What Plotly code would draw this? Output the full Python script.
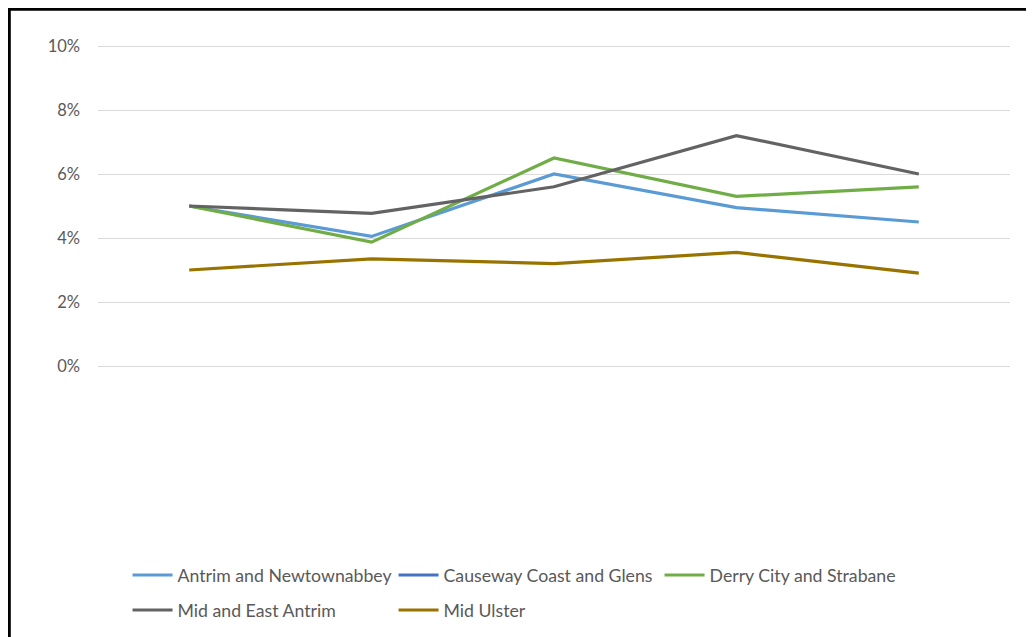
import plotly.graph_objects as go

categories = ["1", "2", "3", "4", "5"]
antrim_newtownabbey = [5.0, 4.05, 6.0, 4.95, 4.5]
causeway_coast_glens = [None, None, None, None, None]
derry_strabane = [5.0, 3.87, 6.5, 5.3, 5.6]
mid_east_antrim = [5.0, 4.77, 5.6, 7.2, 6.0]
mid_ulster = [3.0, 3.35, 3.2, 3.55, 2.9]

tick_vals = [0, 2, 4, 6, 8, 10]
tick_text = ["0%", "2%", "4%", "6%", "8%", "10%"]

series = [
    ("Antrim and Newtownabbey", antrim_newtownabbey, "#5B9BD5", "legend"),
    ("Causeway Coast and Glens", causeway_coast_glens, "#4472C4", "legend"),
    ("Derry City and Strabane", derry_strabane, "#70AD47", "legend"),
    ("Mid and East Antrim", mid_east_antrim, "#636363", "legend2"),
    ("Mid Ulster", mid_ulster, "#997300", "legend2"),
]

fig = go.Figure()
for name, vals, color, leg in series:
    fig.add_trace(go.Scatter(
        x=categories, y=vals, name=name, mode="lines",
        line=dict(color=color, width=3.2),
        showlegend=True, legend=leg,
    ))

FONT = "Lato, 'Open Sans', sans-serif"
W, H = 1034, 637
L, R, T, B = 90, 32, 32, 105
PW, PH = W - L - R, H - T - B

legend_common = dict(orientation="h", xanchor="left", yanchor="top",
                     entrywidth=211, entrywidthmode="pixels", itemwidth=40,
                     font=dict(family=FONT, size=17.7, color="#595959"),
                     bgcolor="rgba(0,0,0,0)")

fig.update_layout(
    width=W, height=H,
    margin=dict(l=L, r=R, t=T, b=B),
    paper_bgcolor="white", plot_bgcolor="white",
    font=dict(family=FONT, size=16, color="#595959"),
    xaxis=dict(type="category", range=[-0.5, 4.5], showticklabels=False,
               showgrid=False, zeroline=False, showline=False, ticks=""),
    yaxis=dict(range=[-5.4375, 10.1875], tickvals=tick_vals, ticktext=tick_text,
               showgrid=True, gridcolor="#D9D9D9", gridwidth=1,
               zeroline=False, showline=False, ticks="",
               ticklabelstandoff=17,
               tickfont=dict(family=FONT, size=16.5, color="#595959")),
    legend=dict(x=0.0324, y=-0.034, **legend_common),
    legend2=dict(x=0.0324, y=-0.104, **legend_common),
    shapes=[
        dict(type="line", xref="paper", yref="paper",
             x0=(0 - L) / PW, x1=(W + 10 - L) / PW,
             y0=(H - B - 1.3) / PH, y1=(H - B - 1.3) / PH,
             line=dict(color="black", width=3)),
        dict(type="line", xref="paper", yref="paper",
             x0=(1.3 - L) / PW, x1=(1.3 - L) / PW,
             y0=(H - B) / PH + 0.01, y1=-(B + 10) / PH,
             line=dict(color="black", width=3)),
    ],
)

fig.write_html("out.html")
